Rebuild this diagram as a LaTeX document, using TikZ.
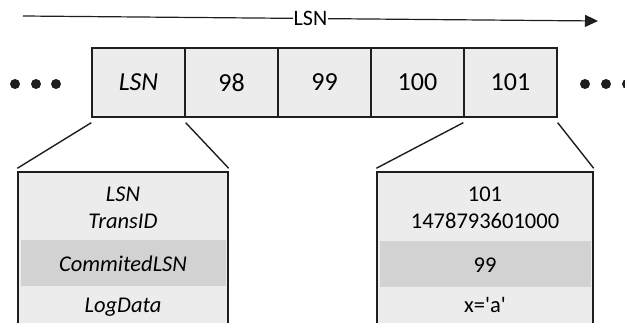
\documentclass[tikz,border=0pt]{standalone}
\usepackage{fontspec}
\setmainfont{Carlito}
\usetikzlibrary{arrows.meta}
\definecolor{cellgray}{HTML}{ECECEC}
\definecolor{bandgray}{HTML}{D1D2D1}
\definecolor{edgegray}{HTML}{1E1E1E}
\tikzset{
  cell/.style   = {draw=edgegray, line width=1.4pt, fill=cellgray, minimum width=93pt,
                   minimum height=69pt, inner sep=0pt, font=\fontsize{26}{28}\selectfont},
  detail/.style = {draw=edgegray, line width=1.4pt, fill=cellgray, minimum height=180pt, inner sep=0pt},
  band/.style   = {fill=bandgray, minimum height=46pt, inner sep=0pt},
  field/.style  = {anchor=base, inner sep=0pt, font=\fontsize{22.5}{24}\selectfont},
  dot/.style    = {circle, fill=edgegray, minimum size=10pt, inner sep=0pt},
  edge/.style   = {draw=edgegray, line width=1.4pt},
}
\begin{document}
\begin{tikzpicture}[x=1pt, y=-1pt]
    \useasboundingbox (0,0) rectangle (625,323);
    \clip (0,0) rectangle (625,323);
    % log sequence
    \coordinate (tail) at ( 23,16);
    \coordinate (head) at (598,21);
    \draw[edge, line width=1.2pt, -{Triangle[length=13pt,width=12pt]}] (tail) -- node[fill=white, inner sep=1pt, font=\fontsize{22}{24}\selectfont] {LSN} (head);
    \node[cell] (lsn)  at (138.5,82.5) {\textit{LSN}};
    \node[cell] (r98)  at (231.5,82.5) {98};
    \node[cell] (r99)  at (324.5,82.5) {99};
    \node[cell] (r100) at (417.5,82.5) {100};
    \node[cell] (r101) at (510.5,82.5) {101};
    \node[dot] (ldotA) at ( 15,84) {};
    \node[dot] (ldotB) at ( 36,84) {};
    \node[dot] (ldotC) at ( 56,84) {};
    \node[dot] (rdotA) at (585,84) {};
    \node[dot] (rdotB) at (606,84) {};
    \node[dot] (rdotC) at (627,84) {};
    % record layout
    \node[detail, minimum width=210pt] (dl) at (123,262) {};
    \node[band, minimum width=205pt] (bl) at (123.5,263) {};
    \node[field] (flsn)   at (123,202) {\textit{LSN}};
    \node[field] (ftrans) at (123,229) {\textit{TransID}};
    \node[field] (fcomm)  at (123,272) {\textit{CommitedLSN}};
    \node[field] (fdata)  at (123,313) {\textit{LogData}};
    % record 101
    \node[detail, minimum width=216pt] (dr) at (485,262) {};
    \node[band, minimum width=211pt] (br) at (485.5,264.5) {};
    \node[field] (vlsn)   at (485,202) {101};
    \node[field] (vtrans) at (485,229) {1478793601000};
    \node[field] (vcomm)  at (485,273) {99};
    \node[field] (vdata)  at (485,313) {x=\textquotesingle a\textquotesingle};
    % zoom lines
    \draw[edge] ([yshift=-5pt]lsn.south west)  -- ([yshift=3pt]dl.north west);
    \draw[edge] ([yshift=-5pt]lsn.south east)  -- ([yshift=3pt]dl.north east);
    \draw[edge] ([yshift=-5pt]r101.south west) -- ([yshift=3pt]dr.north west);
    \draw[edge] ([yshift=-5pt]r101.south east) -- ([yshift=3pt]dr.north east);
\end{tikzpicture}
\end{document}
